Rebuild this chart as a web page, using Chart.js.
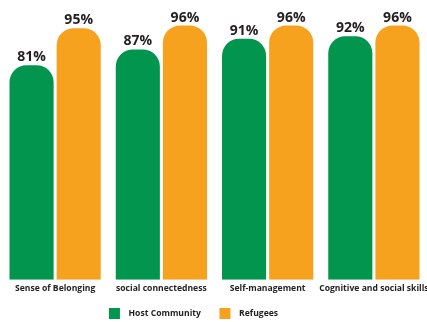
<!DOCTYPE html>
<html>
<head>
<meta charset="utf-8">
<script src="https://cdn.jsdelivr.net/npm/chart.js@4/dist/chart.umd.min.js"></script>
<style>
  html, body { margin: 0; padding: 0; background: #fff; }
  #wrap { width: 427px; height: 322px; }
</style>
</head>
<body>
<div id="wrap"><canvas id="myChart"></canvas></div>
<script>
// chart values
const categories = ['Sense of Belonging', 'social connectedness', 'Self-management', 'Cognitive and social skills'];
const hostCommunity = [81, 87, 91, 92];
const refugees = [95, 96, 96, 96];

// draws the "81%" style labels above each bar
const valueLabels = {
    id: 'valueLabels',
    afterDatasetsDraw(chart) {
        const ctx = chart.ctx;
        ctx.save();
        ctx.font = 'bold 14px "Open Sans"';
        ctx.fillStyle = '#231f20';
        ctx.textAlign = 'center';
        ctx.textBaseline = 'bottom';
        chart.data.datasets.forEach(function (ds, i) {
            chart.getDatasetMeta(i).data.forEach(function (bar, j) {
                ctx.fillText(ds.data[j] + '%', bar.x, bar.y - 1);
            });
        });
        ctx.restore();
    }
};

// the legend in the original sits a bit left of centre
const legendShift = {
    id: 'legendShift',
    afterLayout(chart) {
        chart.legend.left -= 21;
        chart.legend.right -= 21;
    }
};

let ctx = document.getElementById('myChart').getContext('2d');
let chart = new Chart(ctx, {
    type: 'bar',
    data: {
        labels: categories,
        datasets: [
            {
                label: 'Host Community',
                backgroundColor: '#02954d',
                data: hostCommunity
            },
            {
                label: 'Refugees',
                backgroundColor: '#f7a21e',
                data: refugees
            }
        ]
    },
    options: {
        responsive: true,
        maintainAspectRatio: false,
        animation: false,
        categoryPercentage: 0.887,
        barPercentage: 0.936,
        borderRadius: { topLeft: 17, topRight: 17 },
        borderSkipped: 'bottom',
        layout: {
            padding: { top: 15, left: 2, right: 0, bottom: -7 }
        },
        plugins: {
            tooltip: { enabled: false },
            legend: {
                position: 'bottom',
                labels: {
                    boxWidth: 11,
                    boxHeight: 11,
                    padding: 10,
                    color: '#1f1f1f',
                    font: { family: '"Open Sans"', size: 8.6, weight: 'bold' },
                    // wider gaps around the legend text, as in the original
                    generateLabels: function (chart) {
                        const items = Chart.defaults.plugins.legend.labels.generateLabels(chart);
                        items.forEach(function (item, i) {
                            item.text = '\u2002' + item.text + (i < items.length - 1 ? '\u2002\u2002' : '');
                        });
                        return items;
                    }
                }
            }
        },
        scales: {
            x: {
                grid: { display: false, drawTicks: false, tickLength: 0 },
                border: { display: false },
                // let the long last label run off the edge like the original
                afterFit: function (scale) {
                    scale.paddingLeft = 0;
                    scale.paddingRight = 0;
                },
                ticks: {
                    padding: 4,
                    minRotation: 0,
                    maxRotation: 0,
                    autoSkip: false,
                    color: '#1f1f1f',
                    font: { family: '"Open Sans"', size: 8.6, weight: 'bold' }
                }
            },
            y: {
                display: false,
                min: 0,
                max: 100
            }
        }
    },
    plugins: [valueLabels, legendShift]
});
</script>
</body>
</html>
